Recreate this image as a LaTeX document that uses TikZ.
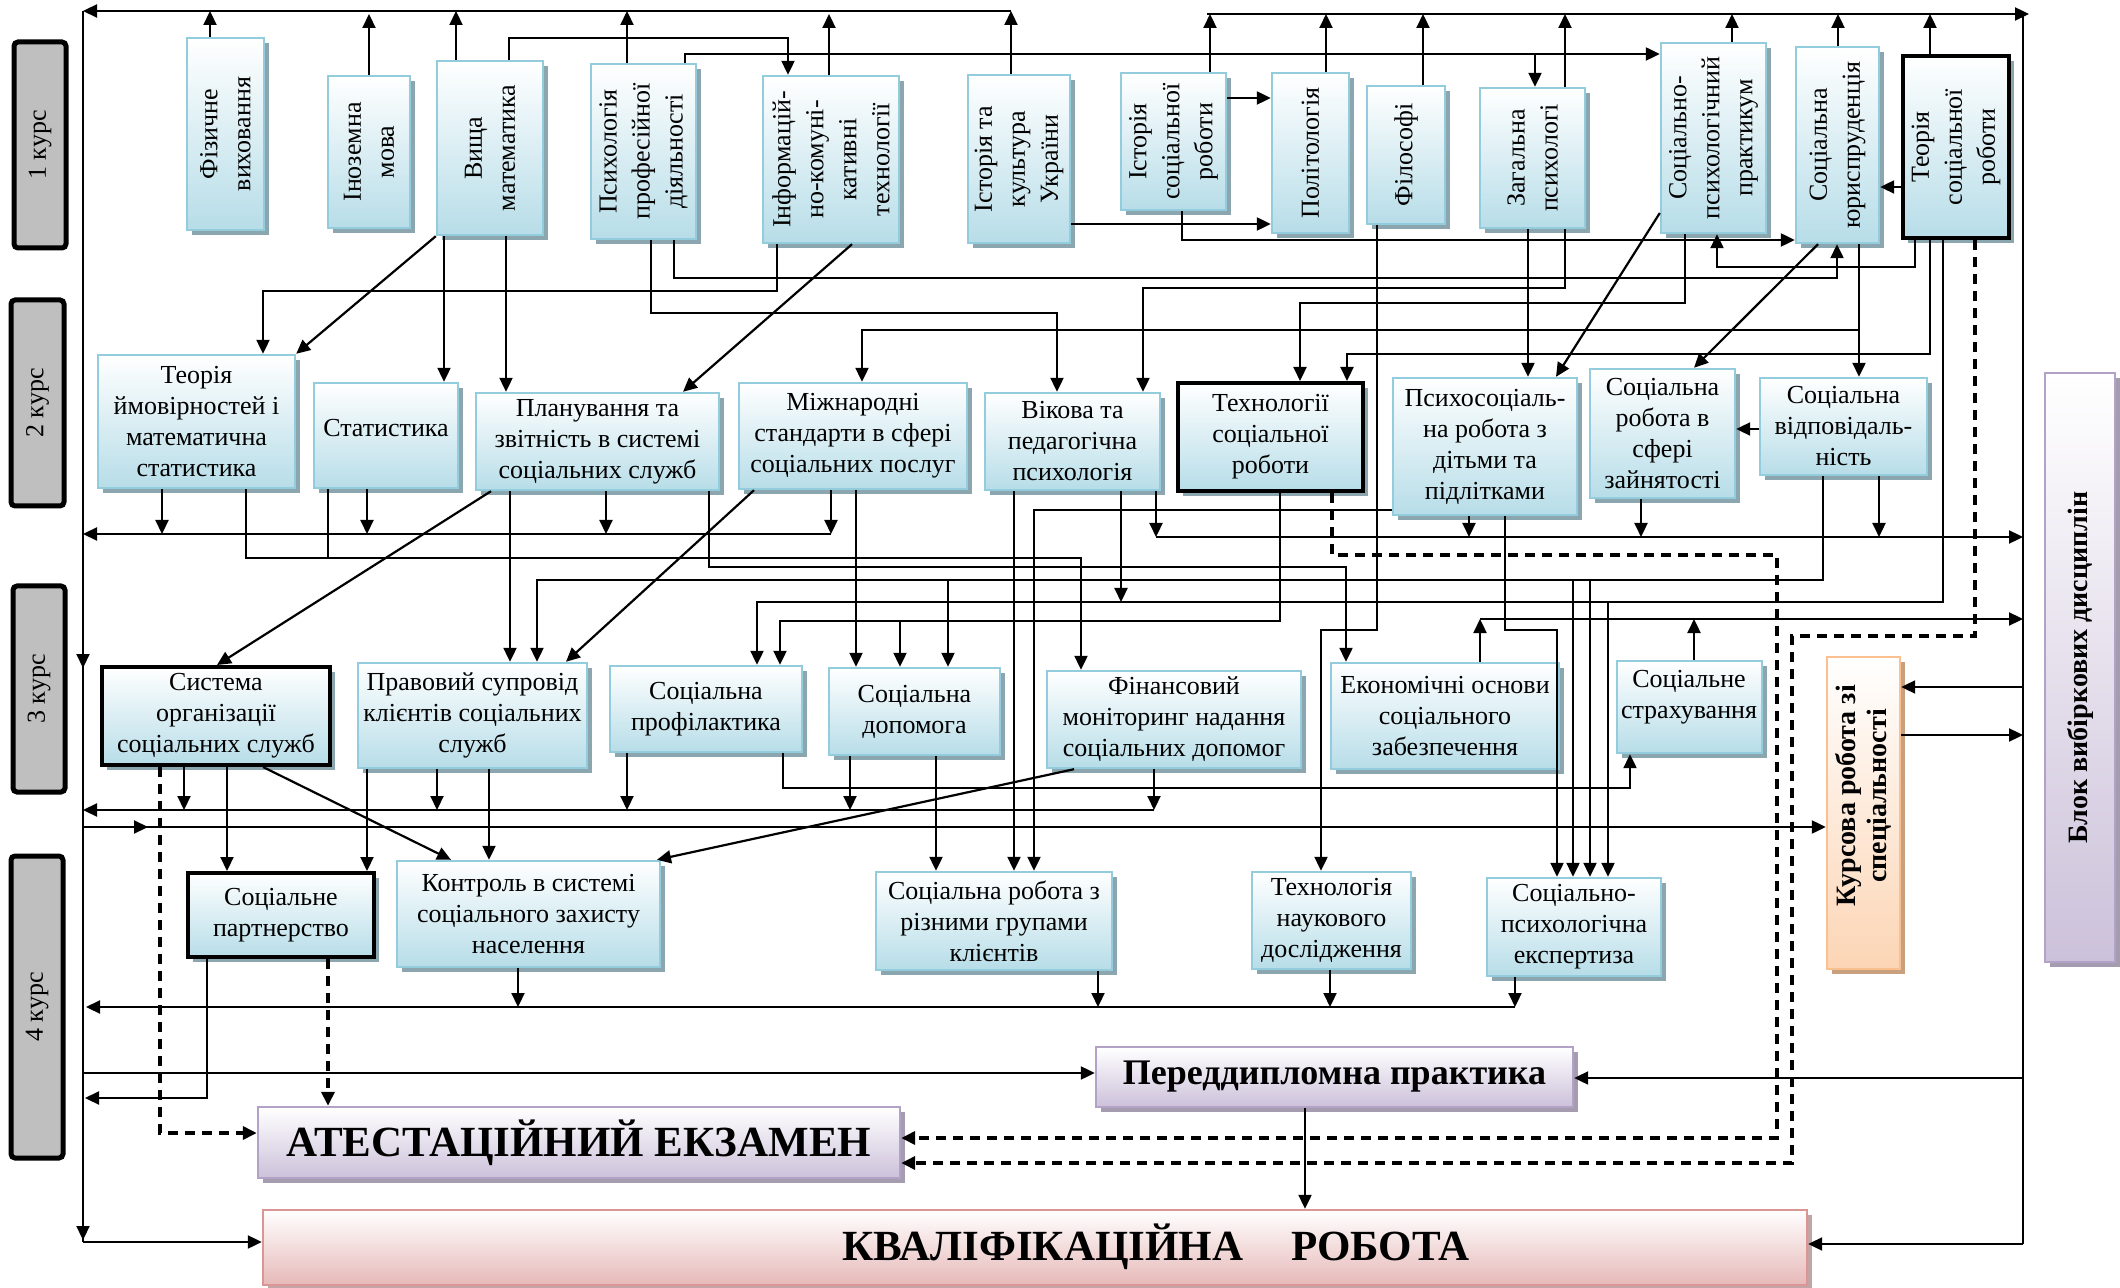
\documentclass[tikz,border=0pt]{standalone}
\usepackage{fontspec}
\setmainfont{Liberation Serif}
\usetikzlibrary{arrows.meta,shadows,fit}
\definecolor{bluebot}{RGB}{183,221,232}
\definecolor{blueedge}{RGB}{147,205,221}
\definecolor{blueshadow}{RGB}{140,166,176}
\definecolor{purbot}{RGB}{204,193,218}
\definecolor{puredge}{RGB}{179,162,199}
\definecolor{purshadow}{RGB}{165,157,175}
\definecolor{pinkbot}{RGB}{230,185,184}
\definecolor{pinkedge}{RGB}{217,150,148}
\definecolor{pinkshadow}{RGB}{195,165,165}
\definecolor{orbot}{RGB}{252,213,181}
\definecolor{oredge}{RGB}{250,192,144}
\definecolor{orshadow}{RGB}{200,160,126}
\definecolor{kgray}{RGB}{191,191,191}
\begin{document}
\begin{tikzpicture}[x=0.5pt,y=-0.5pt,
  bbox/.style={inner sep=0pt, draw=blueedge, line width=1.2pt, top color=white, bottom color=bluebot,
    drop shadow={shadow xshift=2.5pt,shadow yshift=-2.5pt,fill=blueshadow,opacity=1}},
  tbox/.style={bbox, draw=black, line width=2pt},
  pbox/.style={inner sep=0pt, draw=puredge, line width=1.2pt, top color=white, bottom color=purbot,
    drop shadow={shadow xshift=2.5pt,shadow yshift=-2.5pt,fill=purshadow,opacity=1}},
  rbox/.style={inner sep=0pt, draw=pinkedge, line width=1.2pt, top color=white, bottom color=pinkbot,
    drop shadow={shadow xshift=2.5pt,shadow yshift=-2.5pt,fill=pinkshadow,opacity=1}},
  obox/.style={inner sep=0pt, draw=oredge, line width=1.2pt, top color=white, bottom color=orbot,
    drop shadow={shadow xshift=2.5pt,shadow yshift=-2.5pt,fill=orshadow,opacity=1}},
  kbox/.style={inner sep=0pt, draw=black, line width=2.5pt, fill=kgray, rounded corners=2pt},
  tx/.style={font=\fontsize{13}{15.5}\selectfont, align=center, inner sep=0pt},
  vtx/.style={font=\fontsize{13}{16.5}\selectfont, align=center, inner sep=0pt, rotate=90},
  ln/.style={line width=0.9pt},
  arr/.style={line width=1.1pt, -{Triangle[length=7pt,width=6.5pt]}},
  darr/.style={line width=2pt, dash pattern=on 5pt off 3.5pt, -{Triangle[length=7pt,width=6.5pt]}}
]
\useasboundingbox (0,0) rectangle (2120,1288);

% ---------- course labels
\node[kbox, fit={(14,42) (66,248)}] (k1) {};
\node[kbox, fit={(11,300) (64,506)}] (k2) {};
\node[kbox, fit={(13,586) (65,792)}] (k3) {};
\node[kbox, fit={(11,856) (63,1158)}] (k4) {};
\node[vtx] (k1t) at (k1) {1 курс};
\node[vtx] (k2t) at (k2) {2 курс};
\node[vtx] (k3t) at (k3) {3 курс};
\node[vtx] (k4t) at (k4) {4 курс};

% ---------- row 1
\node[bbox, fit={(187,38) (264,230)}] (fiz) {};
\node[bbox, fit={(328,76) (410,228)}] (inoz) {};
\node[bbox, fit={(437,61) (543,235)}] (vyshch) {};
\node[bbox, fit={(591,64) (696,239)}] (psprof) {};
\node[bbox, fit={(763,76) (899,243)}] (ikt) {};
\node[bbox, fit={(968,75) (1070,243)}] (istkult) {};
\node[bbox, fit={(1121,73) (1226,210)}] (istsr) {};
\node[bbox, fit={(1272,73) (1349,233)}] (polit) {};
\node[bbox, fit={(1367,86) (1445,224)}] (filos) {};
\node[bbox, fit={(1480,88) (1585,228)}] (zagps) {};
\node[bbox, fit={(1661,43) (1766,233)}] (spprakt) {};
\node[bbox, fit={(1796,47) (1879,243)}] (sjur) {};
\node[tbox, fit={(1903,56) (2009,238)}] (teorsr) {};
\node[vtx] (fiz-t) at (fiz) {Фізичне\\виховання};
\node[vtx] (inoz-t) at (inoz) {Іноземна\\мова};
\node[vtx] (vyshch-t) at (vyshch) {Вища\\математика};
\node[vtx] (psprof-t) at (psprof) {Психологія\\професійної\\діяльності};
\node[vtx] (ikt-t) at (ikt) {Інформацій-\\но-комуні-\\кативні\\технології};
\node[vtx] (istkult-t) at (istkult) {Історія та\\культура\\України};
\node[vtx] (istsr-t) at (istsr) {Історія\\соціальної\\роботи};
\node[vtx] (polit-t) at (polit) {Політологія};
\node[vtx] (filos-t) at (filos) {Філософі};
\node[vtx] (zagps-t) at (zagps) {Загальна\\психологі};
\node[vtx] (spprakt-t) at (spprakt) {Соціально-\\психологічний\\практикум};
\node[vtx] (sjur-t) at (sjur) {Соціальна\\юриспруденція};
\node[vtx] (teorsr-t) at (teorsr) {Теорія\\соціальної\\роботи};

% ---------- row 2
\node[bbox, fit={(98,355) (295,488)}] (tv) {};
\node[bbox, fit={(314,383) (458,488)}] (stat) {};
\node[bbox, fit={(476,393) (719,490)}] (plan) {};
\node[bbox, fit={(739,383) (967,489)}] (mizh) {};
\node[bbox, fit={(985,393) (1160,490)}] (vik) {};
\node[tbox, fit={(1178,383) (1363,491)}] (tech) {};
\node[bbox, fit={(1393,378) (1577,515)}] (psys) {};
\node[bbox, fit={(1590,369) (1735,498)}] (zain) {};
\node[bbox, fit={(1760,378) (1927,475)}] (vidp) {};
\node[tx] (tv-t) at (tv) {Теорія\\ймовірностей і\\математична\\статистика};
\node[tx] (stat-t) at (386,428) {Статистика};
\node[tx] (plan-t) at (plan) {Планування та\\звітність в системі\\соціальних служб};
\node[tx] (mizh-t) at (mizh) {Міжнародні\\стандарти в сфері\\соціальних послуг};
\node[tx] (vik-t) at (vik) {Вікова та\\педагогічна\\психологія};
\node[tx] (tech-t) at (tech) {Технології\\соціальної\\роботи};
\node[tx] (psys-t) at (psys) {Психосоціаль-\\на робота з\\дітьми та\\підлітками};
\node[tx] (zain-t) at (zain) {Соціальна\\робота в\\сфері\\зайнятості};
\node[tx] (vidp-t) at (vidp) {Соціальна\\відповідаль-\\ність};

% ---------- row 3
\node[tbox, fit={(102,667) (330,765)}] (sys) {};
\node[bbox, fit={(358,663) (587,768)}] (prav) {};
\node[bbox, fit={(610,666) (802,752)}] (prof) {};
\node[bbox, fit={(829,668) (1000,755)}] (dop) {};
\node[bbox, fit={(1047,671) (1301,768)}] (fin) {};
\node[bbox, fit={(1331,663) (1559,769)}] (ekon) {};
\node[bbox, fit={(1617,661) (1762,753)}] (strakh) {};
\node[tx] (sys-t) at (sys) {Система\\організації\\соціальних служб};
\node[tx] (prav-t) at (prav) {Правовий супровід\\клієнтів соціальних\\служб};
\node[tx] (prof-t) at (prof) {Соціальна\\профілактика};
\node[tx] (dop-t) at (dop) {Соціальна\\допомога};
\node[tx] (fin-t) at (fin) {Фінансовий\\моніторинг надання\\соціальних допомог};
\node[tx] (ekon-t) at (ekon) {Економічні основи\\соціального\\забезпечення};
\node[tx] (strakh-t) at (1689,697) {Соціальне\\страхування};

% ---------- row 4
\node[tbox, fit={(188,873) (374,957)}] (partn) {};
\node[bbox, fit={(397,861) (660,967)}] (kontr) {};
\node[bbox, fit={(876,872) (1112,970)}] (grup) {};
\node[bbox, fit={(1252,872) (1411,969)}] (nauk) {};
\node[bbox, fit={(1487,878) (1661,976)}] (eksp) {};
\node[tx] (partn-t) at (partn) {Соціальне\\партнерство};
\node[tx] (kontr-t) at (kontr) {Контроль в системі\\соціального захисту\\населення};
\node[tx] (grup-t) at (grup) {Соціальна робота з\\різними групами\\клієнтів};
\node[tx] (nauk-t) at (nauk) {Технологія\\наукового\\дослідження};
\node[tx] (eksp-t) at (eksp) {Соціально-\\психологічна\\експертиза};

% ---------- final blocks
\node[pbox, fit={(1096,1047) (1573,1107)}] (pered) {};
\node[pbox, fit={(258,1107) (900,1178)}] (atest) {};
\node[rbox, fit={(263,1210) (1807,1285)}] (kval) {};
\node[obox, fit={(1827,657) (1900,969)}] (kurs) {};
\node[pbox, fit={(2045,373) (2115,962)}] (blok) {};
\node[tx, font=\bfseries\fontsize{18}{21}\selectfont] (pered-t) at (pered) {Переддипломна практика};
\node[tx, font=\bfseries\fontsize{21.5}{24}\selectfont] (atest-t) at (atest) {АТЕСТАЦІЙНИЙ ЕКЗАМЕН};
\node[tx, font=\bfseries\fontsize{21.5}{24}\selectfont] (kval-t) at (1156,1247) {КВАЛІФІКАЦІЙНА\hspace{24pt}РОБОТА};
\node[vtx, font=\bfseries\fontsize{14}{15.5}\selectfont] (kurs-t) at (1863,796) {Курсова робота зі\\спеціальності};
\node[vtx, font=\bfseries\fontsize{14}{16}\selectfont] (blok-t) at (blok) {Блок вибіркових дисциплін};

% ---------- main buses
\draw[arr] (1011,11) -- (83,11);
\draw[arr] (1207,14) -- (2029,14);
\draw[ln] (2023,14) -- (2023,1244);
\draw[ln] (83,11) -- (83,1242);
\draw[arr] (83,640) -- (83,668);
\draw[arr] (83,1210) -- (83,1240);
\draw[arr] (83,1242) -- (kval.west|-0,1242);

% ---------- row 1 up arrows
\foreach \n/\x/\y in {fiz/210/11, inoz/369/14, vyshch/456/11, psprof/627/11, ikt/829/14, istkult/1011/11,
  istsr/1210/14, polit/1326/14, filos/1423/14, zagps/1565/14, spprakt/1732/14, sjur/1838/14, teorsr/1930/14}
  \draw[arr] (\x,0|-\n.north) -- (\x,\y);

% ---------- row 1 internal
\draw[arr] (509,0|-vyshch.north) |- (788,38) -- (788,0|-ikt.north);
\draw[arr] (685,0|-psprof.north) |- (spprakt.west|-0,54);
\draw[arr] (1535,54) -- (1535,0|-zagps.north);
\draw[arr] (istkult.east|-0,224) -- (polit.west|-0,224);
\draw[arr] (istsr.east|-0,98) -- (polit.west|-0,98);
\draw[arr] (1182,0|-istsr.south) |- (sjur.west|-0,240);
\draw[arr] (teorsr.west|-0,187) -- (sjur.east|-0,187);
\draw[arr] (1915,0|-teorsr.south) |- (1717,267) -- (1717,0|-spprakt.south);
\draw[arr] (674,0|-psprof.south) |- (1837,278) -- (1837,0|-sjur.south);
\draw[arr] (651,0|-psprof.south) |- (1057,313) -- (1057,0|-vik.north);
\draw[arr] (1565,0|-zagps.south) |- (1143,288) -- (1143,0|-vik.north);
\draw[arr] (1528,0|-zagps.south) -- (1528,0|-psys.north);
\draw[arr] (777,0|-ikt.south) |- (263,291) -- (263,0|-tv.north);
\draw[arr] (vyshch.south west) -- (tv.north east);
\draw[arr] (444,0|-vyshch.south) -- (444,0|-stat.north);
\draw[arr] (506,0|-vyshch.south) -- (506,0|-plan.north);
\draw[arr] (852,0|-ikt.south) -- (683,0|-plan.north);
\draw[arr] (1859,0|-sjur.south) -- (1859,0|-vidp.north);
\draw[arr] (1859,330) -- (862,330) -- (862,0|-mizh.north);
\draw[arr] (1685,0|-spprakt.south) |- (1300,303) -- (1300,0|-tech.north);
\draw[arr] (1930,0|-teorsr.south) |- (1347,354) -- (1347,0|-tech.north);
\draw[arr] (spprakt.west|-0,213) -- (1556,0|-psys.north);
\draw[arr] (1818,0|-sjur.south) -- (1694,0|-zain.north);
\draw[arr] (vidp.west|-0,429) -- (zain.east|-0,429);
\draw[arr] (1377,0|-filos.south) |- (1321,630) -- (1321,0|-nauk.north);

% ---------- row 2 down
\foreach \n/\x in {tv/162, stat/367, plan/606, mizh/831}
  \draw[arr] (\x,0|-\n.south) -- (\x,534);
\draw[arr] (831,534) -- (83,534);
\foreach \n/\x in {vik/1156, psys/1469, zain/1641, vidp/1879}
  \draw[arr] (\x,0|-\n.south) -- (\x,537);
\draw[arr] (1156,537) -- (2023,537);
\draw[arr] (246,0|-tv.south) |- (1081,558) -- (1081,0|-fin.north);
\draw[ln] (328,0|-stat.south) -- (328,558);
\draw[arr] (709,0|-plan.south) |- (1346,567) -- (1346,0|-ekon.north);
\draw[arr] (1823,0|-vidp.south) |- (537,580) -- (537,0|-prav.north);
\draw[arr] (948,580) -- (948,0|-dop.north);
\draw[arr] (1573,580) -- (1573,0|-eksp.north);
\draw[arr] (1590,580) -- (1590,0|-eksp.north);
\draw[arr] (1943,0|-teorsr.south) |- (757,602) -- (757,0|-prof.north);
\draw[arr] (1608,602) -- (1608,0|-eksp.north);
\draw[arr] (1121,0|-vik.south) -- (1121,602);
\draw[arr] (1280,0|-tech.south) |- (780,621) -- (780,0|-prof.north);
\draw[arr] (900,621) -- (900,0|-dop.north);
\draw[arr] (psys.west|-0,510) -| (1034,0|-grup.north);
\draw[arr] (1014,0|-vik.south) -- (1014,0|-grup.north);
\draw[arr] (1505,0|-psys.south) |- (1557,630) -- (1557,0|-eksp.north);
\draw[arr] (510,0|-plan.south) -- (510,0|-prav.north);
\draw[arr] (491,0|-plan.south) -- (217,0|-sys.north);
\draw[arr] (856,0|-mizh.south) -- (856,0|-dop.north);
\draw[arr] (754,0|-mizh.south) -- (566,0|-prav.north);
\draw[darr] (1332,0|-tech.south) |- (1777,555) |- (atest.east|-0,1138);
\draw[darr] (1975,0|-teorsr.south) |- (1792,636) |- (atest.east|-0,1163);

% ---------- row 3
\foreach \n/\x in {sys/184, prav/437, prof/627, dop/850, fin/1154}
  \draw[arr] (\x,0|-\n.south) -- (\x,810);
\draw[arr] (1154,810) -- (83,810);
\draw[arr] (783,0|-prof.south) |- (1630,788) -- (1630,0|-strakh.south);
\draw[arr] (1480,0|-ekon.north) -- (1480,619);
\draw[arr] (1480,619) -- (2023,619);
\draw[arr] (1694,0|-strakh.north) -- (1694,619);
\draw[arr] (83,827) -- (kurs.west|-0,827);
\draw[arr] (83,827) -- (148,827);
\draw[arr] (227,0|-sys.south) -- (227,0|-partn.north);
\draw[arr] (367,0|-prav.south) -- (367,0|-partn.north);
\draw[arr] (263,0|-sys.south) -- (451,0|-kontr.north);
\draw[arr] (489,0|-prav.south) -- (489,0|-kontr.north);
\draw[arr] (1074,0|-fin.south) -- (657,0|-kontr.north);
\draw[arr] (936,0|-dop.south) -- (936,0|-grup.north);
\draw[darr] (160,0|-sys.south) |- (atest.west|-0,1133);
\draw[arr] (2023,687) -- (kurs.east|-0,687);
\draw[arr] (kurs.east|-0,735) -- (2023,735);
\draw[arr] (2023,1078) -- (pered.east|-0,1078);
\draw[arr] (2023,1244) -- (kval.east|-0,1244);

% ---------- row 4
\foreach \n/\x in {kontr/518, grup/1098, nauk/1330, eksp/1515}
  \draw[arr] (\x,0|-\n.south) -- (\x,1007);
\draw[arr] (1515,1007) -- (86,1007);
\draw[arr] (207,0|-partn.south) |- (85,1098);
\draw[darr] (328,0|-partn.south) -- (328,0|-atest.north);
\draw[arr] (83,1073) -- (pered.west|-0,1073);
\draw[arr] (1305,0|-pered.south) -- (1305,0|-kval.north);
\end{tikzpicture}
\end{document}
